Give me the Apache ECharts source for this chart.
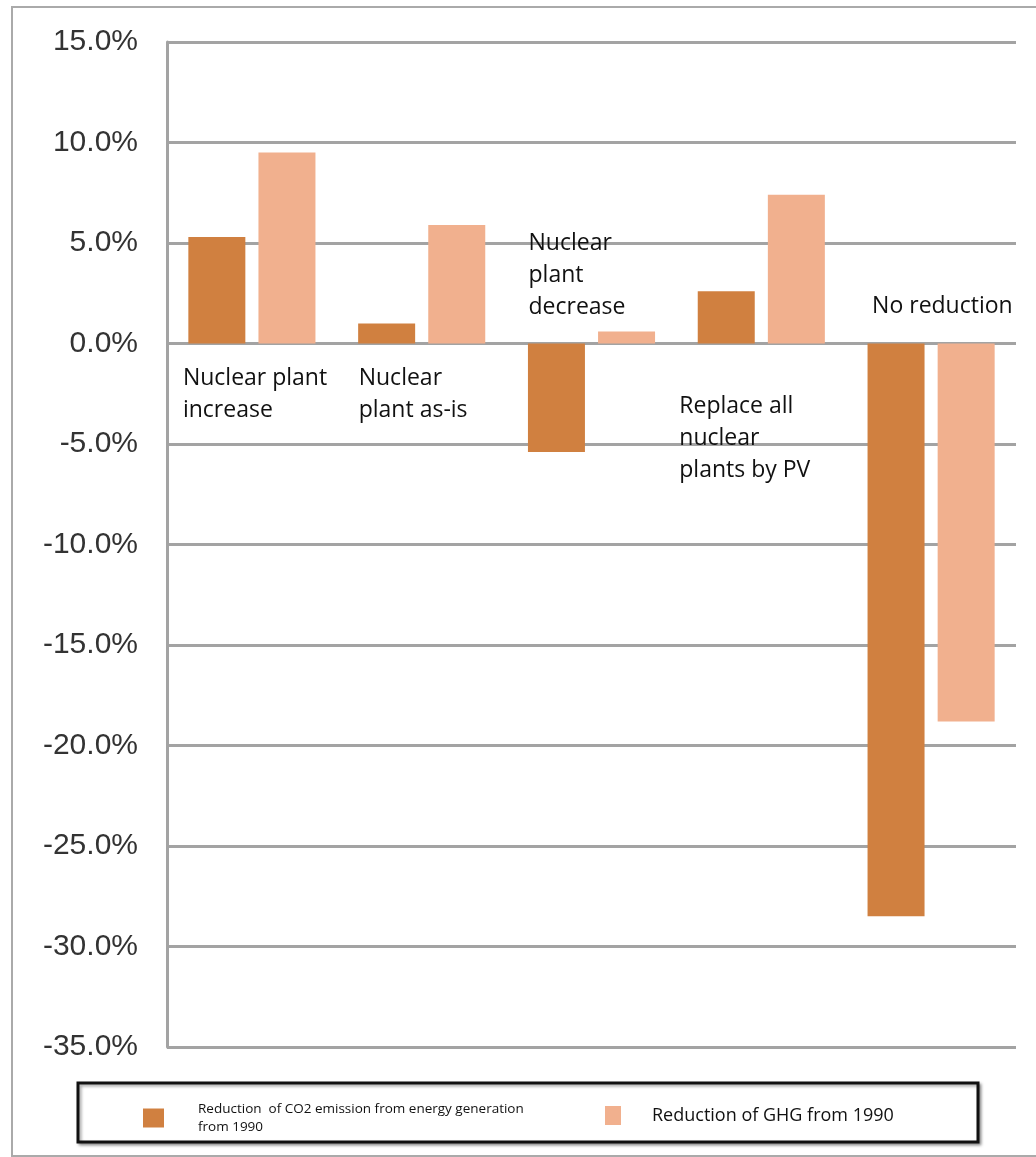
<!DOCTYPE html>
<html>
<head>
<meta charset="utf-8">
<script src="https://cdn.jsdelivr.net/npm/echarts@6/dist/echarts.min.js"></script>
<style>
  html, body { margin: 0; padding: 0; background: #fff; }
  #main { width: 1036px; height: 1157px; }
</style>
</head>
<body>
<div id="main"></div>
<script>
var scenarios = ['Nuclear plant increase', 'Nuclear plant as-is', 'Nuclear plant decrease', 'Replace all nuclear plants by PV', 'No reduction'];
var co2Reduction = [5.3, 1.0, -5.4, 2.6, -28.5];
var ghgReduction = [9.5, 5.9, 0.6, 7.4, -18.8];
var annotationText = ['Nuclear plant\nincrease', 'Nuclear\nplant as-is', 'Nuclear\nplant\ndecrease', 'Replace all\nnuclear\nplants by PV', 'No reduction'];
var co2Name = 'Reduction  of CO2 emission from energy generation from 1990';
var ghgName = 'Reduction of GHG from 1990';

// where each annotation sits: offset from category centre (px) and value at its top
var annotationPos = [
  { dx: -69, v: -0.95 },
  { dx: -63, v: -0.95 },
  { dx: -63, v: 5.75 },
  { dx: -82, v: -2.35 },
  { dx: -59, v: 2.65 }
];

var chart = echarts.init(document.getElementById('main'), null, { renderer: 'canvas' });

var option = {
  backgroundColor: '#fff',
  animation: false,
  grid: { left: 167, right: 20, top: 42, bottom: 110 },
  xAxis: {
    type: 'category',
    data: scenarios,
    axisLine: { show: false },
    axisTick: { show: false },
    axisLabel: { show: false }
  },
  yAxis: {
    type: 'value',
    min: -35,
    max: 15,
    interval: 5,
    axisLine: { show: true, lineStyle: { color: '#a3a3a3', width: 3 } },
    axisTick: { show: false },
    axisLabel: {
      margin: 29,
      color: '#333',
      fontFamily: 'Liberation Sans',
      fontSize: 30,
      formatter: function (v) { return v.toFixed(1) + '%'; }
    },
    splitLine: { lineStyle: { color: '#a3a3a3', width: 3 } }
  },
  legend: [{
    data: [co2Name],
    left: 138,
    top: 1087,
    itemWidth: 21,
    itemHeight: 19,
    icon: 'rect',
    formatter: function (n) { return n.replace(' from 1990', '\nfrom 1990'); },
    textStyle: { fontFamily: 'Open Sans', fontSize: 13.5, lineHeight: 18, color: '#111', padding: [16, 0, 0, 29] }
  }, {
    data: [ghgName],
    left: 600,
    top: 1101,
    itemWidth: 16,
    itemHeight: 19,
    icon: 'rect',
    textStyle: { fontFamily: 'Open Sans', fontSize: 18, color: '#111', padding: [0, 0, 0, 26] }
  }],
  series: [{
    name: co2Name,
    type: 'bar',
    data: co2Reduction,
    barWidth: 57,
    barGap: '23%',
    itemStyle: { color: '#d08040' }
  }, {
    name: ghgName,
    type: 'bar',
    data: ghgReduction,
    barWidth: 57,
    itemStyle: { color: '#f1b08e' }
  }]
};

chart.setOption(option);

// frame, legend box and annotation texts placed through the axes
var graphics = [{
  type: 'rect',
  z: -1,
  shape: { x: 12, y: 7, width: 1040, height: 1149 },
  style: { fill: 'none', stroke: '#aaaaaa', lineWidth: 2 }
}, {
  type: 'rect',
  z: 0,
  shape: { x: 78, y: 1083, width: 900, height: 59 },
  style: {
    fill: '#fff', stroke: '#111', lineWidth: 3,
    shadowBlur: 3, shadowOffsetX: 2, shadowOffsetY: 2, shadowColor: 'rgba(0,0,0,0.35)'
  }
}];

annotationText.forEach(function (t, i) {
  var p = chart.convertToPixel({ xAxisIndex: 0, yAxisIndex: 0 }, [scenarios[i], annotationPos[i].v]);
  graphics.push({
    type: 'text',
    z: 10,
    x: p[0] + annotationPos[i].dx,
    y: p[1],
    style: {
      text: t,
      fill: '#111',
      fontFamily: 'Open Sans',
      fontSize: 23,
      lineHeight: 32,
      verticalAlign: 'top',
      align: 'left'
    }
  });
});

chart.setOption({ graphic: graphics });
</script>
</body>
</html>
